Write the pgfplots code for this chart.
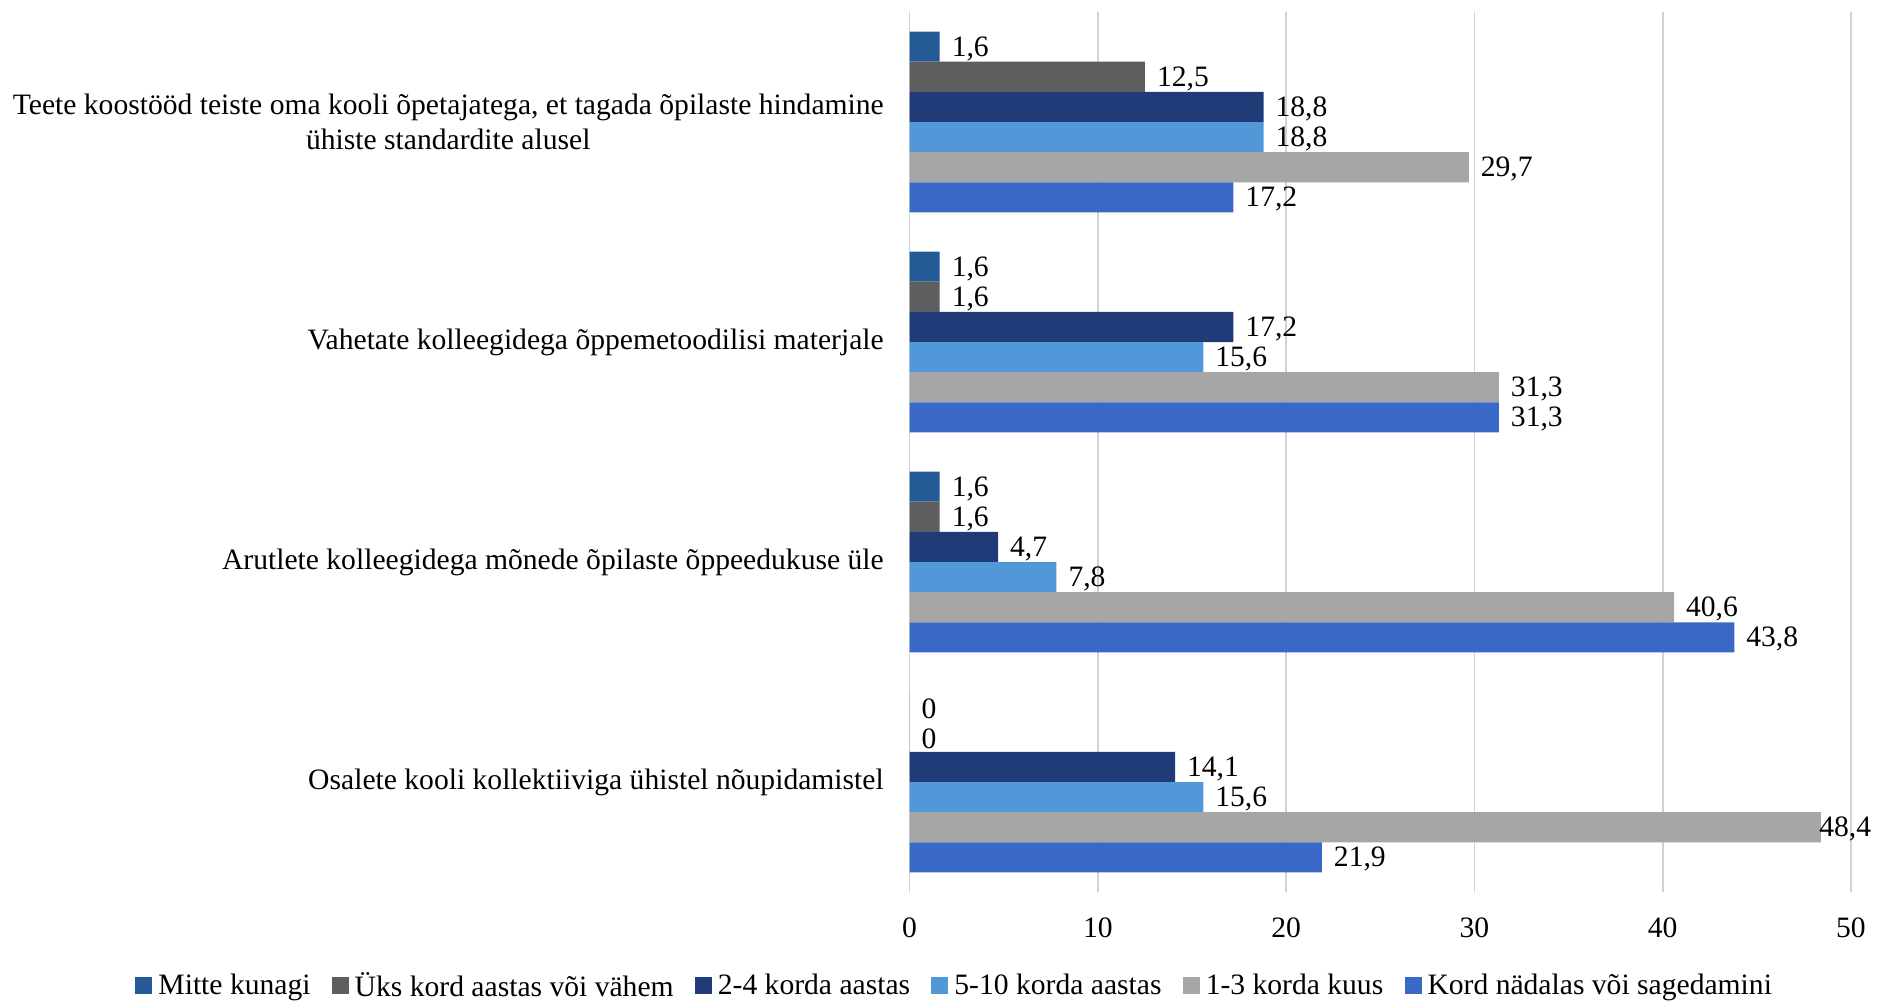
\documentclass[border=0pt]{standalone}
\usepackage{fontspec}
\setmainfont{Liberation Serif}
\usepackage{pgfplots}
\pgfplotsset{compat=1.18}
\definecolor{cA}{HTML}{245A96}
\definecolor{cB}{HTML}{5E5E5E}
\definecolor{cC}{HTML}{203C78}
\definecolor{cD}{HTML}{5298D8}
\definecolor{cE}{HTML}{A6A6A6}
\definecolor{cF}{HTML}{3A68C6}
\begin{document}
\begin{tikzpicture}[font=\fontsize{14.8pt}{17.6pt}\selectfont]
\useasboundingbox (-454.8pt,-54.75pt) rectangle (484.7pt,446pt);
\begin{axis}[
  at={(0,0)}, anchor=south west,
  scale only axis, width=470.7pt, height=440pt,
  /pgf/number format/assume math mode=true,
  xbar, bar width=0.137,
  xmin=0, xmax=50, ymin=-0.5, ymax=3.5, y dir=reverse,
  xtick={0,10,...,50}, ytick={0,1,2,3},
  yticklabels={{Teete koostööd teiste oma kooli õpetajatega, et tagada õpilaste hindamine\\ühiste standardite alusel},
               {Vahetate kolleegidega õppemetoodilisi materjale},
               {Arutlete kolleegidega mõnede õpilaste õppeedukuse üle},
               {Osalete kooli kollektiiviga ühistel nõupidamistel}},
  yticklabel style={align=center, anchor=east, xshift=-9.4pt},
  xticklabel style={anchor=center, yshift=-18pt},
  xmajorgrids, grid style={draw=gray!35, line width=0.8pt},
  axis line style={draw=none},
  major tick length=0pt,
  clip=false,
  point meta=x,
  visualization depends on={rawx \as \rawxv},
  nodes near coords={\pgfmathprintnumber[use comma,fixed,precision=1,assume math mode=true]{\pgfplotspointmeta}},
  nodes near coords style={anchor=west, xshift={\rawxv>45 ? -4.3pt : 2.5pt}, yshift=-1pt, text=black},
  legend columns=6,
  legend style={draw=none, fill=none, at={(rel axis cs:0.0490,0)}, yshift=-46.75pt, anchor=center,
    /tikz/every even column/.append style={column sep=8.6pt},
    /tikz/every odd column/.append style={column sep=1pt}},
  legend image code/.code={\fill[#1] (0pt,-4.25pt) rectangle (8.5pt,4.25pt);},
]
\addplot[fill=cA, draw=none, bar shift=-0.3425] coordinates {(1.6,0) (1.6,1) (1.6,2) (0,3)};
\addplot[fill=cB, draw=none, bar shift=-0.2055] coordinates {(12.5,0) (1.6,1) (1.6,2) (0,3)};
\addplot[fill=cC, draw=none, bar shift=-0.0685] coordinates {(18.8,0) (17.2,1) (4.7,2) (14.1,3)};
\addplot[fill=cD, draw=none, bar shift=0.0685] coordinates {(18.8,0) (15.6,1) (7.8,2) (15.6,3)};
\addplot[fill=cE, draw=none, bar shift=0.2055] coordinates {(29.7,0) (31.3,1) (40.6,2) (48.4,3)};
\addplot[fill=cF, draw=none, bar shift=0.3425] coordinates {(17.2,0) (31.3,1) (43.8,2) (21.9,3)};
\legend{Mitte kunagi, Üks kord aastas või vähem, 2-4 korda aastas, 5-10 korda aastas, 1-3 korda kuus, Kord nädalas või sagedamini}
\end{axis}
\end{tikzpicture}
\end{document}
